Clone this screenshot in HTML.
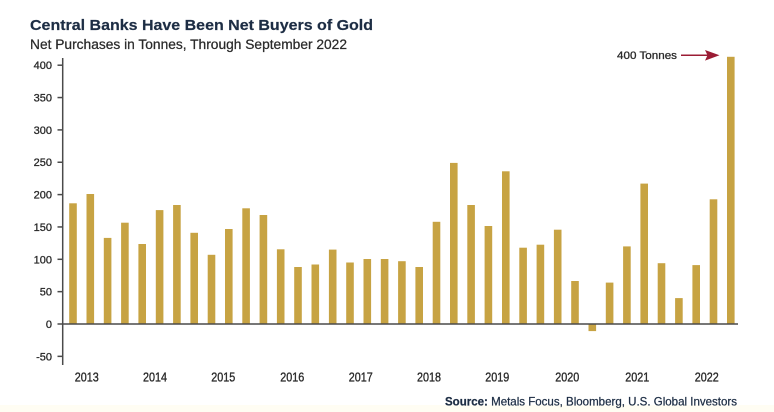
<!DOCTYPE html>
<html>
<head>
<meta charset="utf-8">
<style>
html,body{margin:0;padding:0;background:#fff;}
svg{display:block;}
text{font-family:"Liberation Sans",Arial,sans-serif;}
</style>
</head>
<body>
<svg width="774" height="412" viewBox="0 0 774 412" xmlns="http://www.w3.org/2000/svg">
<rect x="0" y="0" width="774" height="412" fill="#ffffff"/>
<rect x="0" y="405" width="774" height="7" fill="#fffdf3"/>

<text x="30" y="30" font-size="15" font-weight="bold" fill="#1d2d44" stroke="#1d2d44" stroke-width="0.2" textLength="343" lengthAdjust="spacingAndGlyphs">Central Banks Have Been Net Buyers of Gold</text>
<text x="30" y="49" font-size="13.5" fill="#2a2a2a" stroke="#2a2a2a" stroke-width="0.25" textLength="317" lengthAdjust="spacingAndGlyphs">Net Purchases in Tonnes, Through September 2022</text>

<g font-size="11" fill="#2a2a2a" stroke="#2a2a2a" stroke-width="0.3" text-anchor="end">
<text x="52" y="69.2">400</text>
<text x="52" y="101.5">350</text>
<text x="52" y="133.9">300</text>
<text x="52" y="166.2">250</text>
<text x="52" y="198.6">200</text>
<text x="52" y="231">150</text>
<text x="52" y="263.3">100</text>
<text x="52" y="295.6">50</text>
<text x="52" y="328">0</text>
<text x="52" y="360.3">-50</text>
</g>

<g fill="#c7a343">
<rect x="69.2" y="203.3" width="7.6" height="120.7"/>
<rect x="86.5" y="194.0" width="7.6" height="130.0"/>
<rect x="103.8" y="237.9" width="7.6" height="86.1"/>
<rect x="121.1" y="222.7" width="7.6" height="101.3"/>
<rect x="138.4" y="244.0" width="7.6" height="80.0"/>
<rect x="155.8" y="210.1" width="7.6" height="113.9"/>
<rect x="173.1" y="205.0" width="7.6" height="119.0"/>
<rect x="190.4" y="232.8" width="7.6" height="91.2"/>
<rect x="207.7" y="254.8" width="7.6" height="69.2"/>
<rect x="225.0" y="229.0" width="7.6" height="95.0"/>
<rect x="242.3" y="208.3" width="7.6" height="115.7"/>
<rect x="259.6" y="215.0" width="7.6" height="109.0"/>
<rect x="276.9" y="249.3" width="7.6" height="74.7"/>
<rect x="294.2" y="267.0" width="7.6" height="57.0"/>
<rect x="311.5" y="264.5" width="7.6" height="59.5"/>
<rect x="328.9" y="249.6" width="7.6" height="74.4"/>
<rect x="346.2" y="262.5" width="7.6" height="61.5"/>
<rect x="363.5" y="259.0" width="7.6" height="65.0"/>
<rect x="380.8" y="259.0" width="7.6" height="65.0"/>
<rect x="398.1" y="261.2" width="7.6" height="62.8"/>
<rect x="415.4" y="267.0" width="7.6" height="57.0"/>
<rect x="432.7" y="221.8" width="7.6" height="102.2"/>
<rect x="450.0" y="162.9" width="7.6" height="161.1"/>
<rect x="467.3" y="205.0" width="7.6" height="119.0"/>
<rect x="484.6" y="226.0" width="7.6" height="98.0"/>
<rect x="502.0" y="171.3" width="7.6" height="152.7"/>
<rect x="519.3" y="247.7" width="7.6" height="76.3"/>
<rect x="536.6" y="244.7" width="7.6" height="79.3"/>
<rect x="553.9" y="229.7" width="7.6" height="94.3"/>
<rect x="571.2" y="281.0" width="7.6" height="43.0"/>
<rect x="588.5" y="324.0" width="7.6" height="7.1"/>
<rect x="605.8" y="282.6" width="7.6" height="41.4"/>
<rect x="623.1" y="246.4" width="7.6" height="77.6"/>
<rect x="640.4" y="183.6" width="7.6" height="140.4"/>
<rect x="657.7" y="263.2" width="7.6" height="60.8"/>
<rect x="675.1" y="298.1" width="7.6" height="25.9"/>
<rect x="692.4" y="265.1" width="7.6" height="58.9"/>
<rect x="709.7" y="199.3" width="7.6" height="124.7"/>
<rect x="727.0" y="56.8" width="7.6" height="267.2"/>
</g>

<g stroke="#4a4a4a" stroke-width="1.5">
<line x1="62.7" y1="58" x2="62.7" y2="365"/>
<line x1="62" y1="324" x2="738" y2="324"/>
<line x1="57.5" y1="65.2" x2="62.7" y2="65.2"/>
<line x1="57.5" y1="97.55" x2="62.7" y2="97.55"/>
<line x1="57.5" y1="129.9" x2="62.7" y2="129.9"/>
<line x1="57.5" y1="162.25" x2="62.7" y2="162.25"/>
<line x1="57.5" y1="194.6" x2="62.7" y2="194.6"/>
<line x1="57.5" y1="226.95" x2="62.7" y2="226.95"/>
<line x1="57.5" y1="259.3" x2="62.7" y2="259.3"/>
<line x1="57.5" y1="291.65" x2="62.7" y2="291.65"/>
<line x1="57.5" y1="324" x2="62.7" y2="324"/>
<line x1="57.5" y1="356.35" x2="62.7" y2="356.35"/>
</g>

<g font-size="13" fill="#2a2a2a" stroke="#2a2a2a" stroke-width="0.35" text-anchor="middle">
<text x="86.7" y="381.5" textLength="24" lengthAdjust="spacingAndGlyphs">2013</text>
<text x="155" y="381.5" textLength="24" lengthAdjust="spacingAndGlyphs">2014</text>
<text x="223.3" y="381.5" textLength="24" lengthAdjust="spacingAndGlyphs">2015</text>
<text x="292.3" y="381.5" textLength="24" lengthAdjust="spacingAndGlyphs">2016</text>
<text x="360.7" y="381.5" textLength="24" lengthAdjust="spacingAndGlyphs">2017</text>
<text x="429" y="381.5" textLength="24" lengthAdjust="spacingAndGlyphs">2018</text>
<text x="497.3" y="381.5" textLength="24" lengthAdjust="spacingAndGlyphs">2019</text>
<text x="567.3" y="381.5" textLength="24" lengthAdjust="spacingAndGlyphs">2020</text>
<text x="637.3" y="381.5" textLength="24" lengthAdjust="spacingAndGlyphs">2021</text>
<text x="706.7" y="381.5" textLength="24" lengthAdjust="spacingAndGlyphs">2022</text>
</g>

<text x="445" y="405.5" font-size="12" fill="#1d2d44" stroke="#1d2d44" stroke-width="0.25" textLength="292" lengthAdjust="spacingAndGlyphs"><tspan font-weight="bold">Source:</tspan> Metals Focus, Bloomberg, U.S. Global Investors</text>

<text x="617" y="59" font-size="11" fill="#2a2a2a" stroke="#2a2a2a" stroke-width="0.3" textLength="60" lengthAdjust="spacingAndGlyphs">400 Tonnes</text>
<line x1="681" y1="55.3" x2="708" y2="55.3" stroke="#9b1c34" stroke-width="1.5"/>
<polygon points="705,50 719.5,55.3 705,60.6 707.5,55.3" fill="#9b1c34"/>
</svg>
</body>
</html>
